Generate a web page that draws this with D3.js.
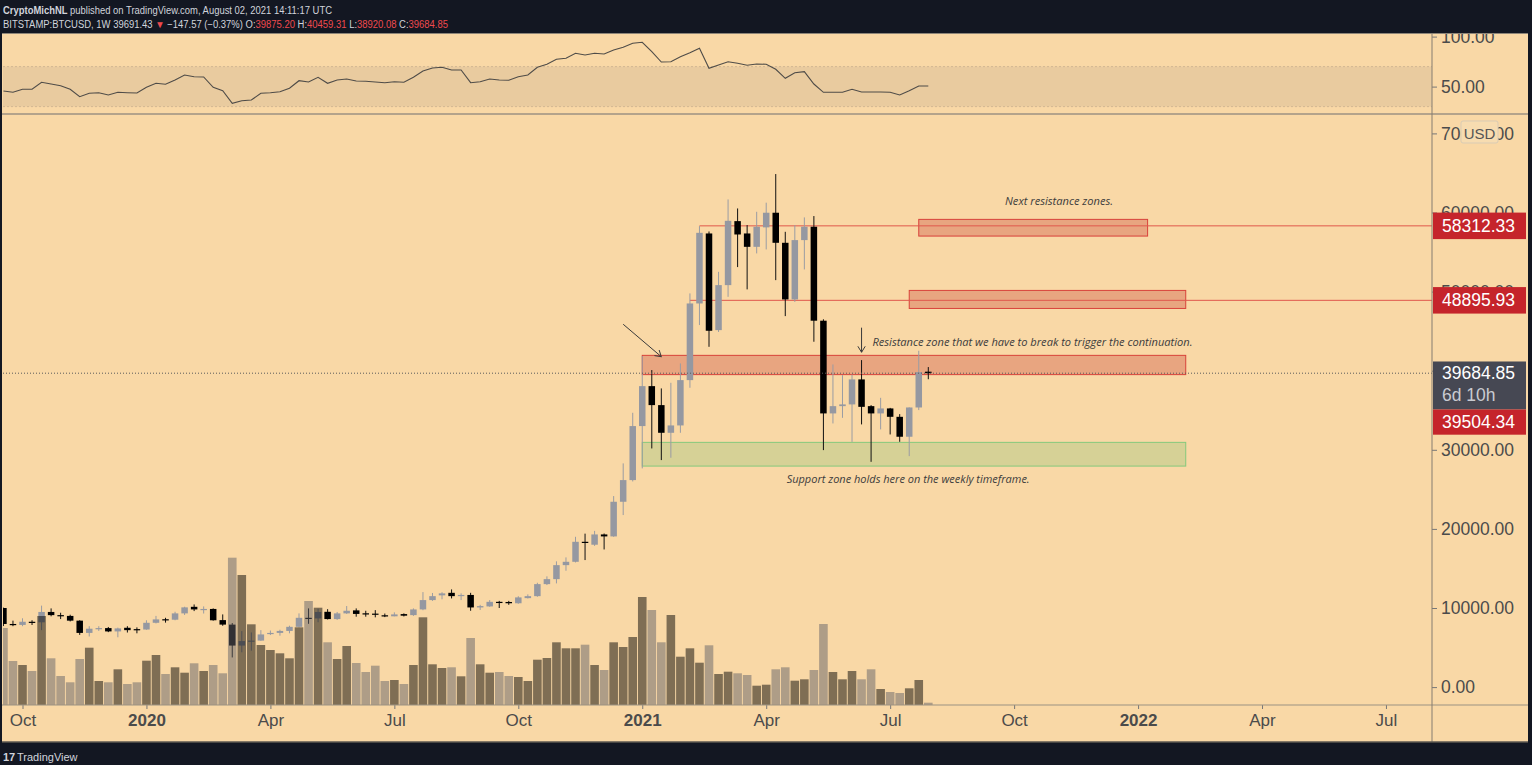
<!DOCTYPE html>
<html><head><meta charset="utf-8">
<script src="https://cdn.jsdelivr.net/npm/d3@7"></script>
<style>
html,body{margin:0;padding:0;background:#131722;}
svg{display:block;}
</style></head><body>
<svg id="c" width="1532" height="765"></svg>
<script>
// ---------------- DATA ----------------
const weeks = [
"2019-09-23","2019-09-30","2019-10-07","2019-10-14","2019-10-21","2019-10-28","2019-11-04","2019-11-11","2019-11-18","2019-11-25",
"2019-12-02","2019-12-09","2019-12-16","2019-12-23","2019-12-30","2020-01-06","2020-01-13","2020-01-20","2020-01-27","2020-02-03",
"2020-02-10","2020-02-17","2020-02-24","2020-03-02","2020-03-09","2020-03-16","2020-03-23","2020-03-30","2020-04-06","2020-04-13",
"2020-04-20","2020-04-27","2020-05-04","2020-05-11","2020-05-18","2020-05-25","2020-06-01","2020-06-08","2020-06-15","2020-06-22",
"2020-06-29","2020-07-06","2020-07-13","2020-07-20","2020-07-27","2020-08-03","2020-08-10","2020-08-17","2020-08-24","2020-08-31",
"2020-09-07","2020-09-14","2020-09-21","2020-09-28","2020-10-05","2020-10-12","2020-10-19","2020-10-26","2020-11-02","2020-11-09",
"2020-11-16","2020-11-23","2020-11-30","2020-12-07","2020-12-14","2020-12-21","2020-12-28","2021-01-04","2021-01-11","2021-01-18",
"2021-01-25","2021-02-01","2021-02-08","2021-02-15","2021-02-22","2021-03-01","2021-03-08","2021-03-15","2021-03-22","2021-03-29",
"2021-04-05","2021-04-12","2021-04-19","2021-04-26","2021-05-03","2021-05-10","2021-05-17","2021-05-24","2021-05-31","2021-06-07",
"2021-06-14","2021-06-21","2021-06-28","2021-07-05","2021-07-12","2021-07-19","2021-07-26","2021-08-02"];

const open = [
10000,7980,7860,8260,8190,9500,9100,9000,8400,6850,
7380,7460,7040,7500,7330,7280,8130,8580,8520,9320,
10150,9820,9880,8470,7900,5250,5820,5880,6700,6850,
7100,7620,8760,8680,9520,8600,9320,9700,9330,9290,
9080,8950,9230,9100,9820,11000,11600,11920,11550,11650,
10070,10200,10780,10760,10600,11250,11500,13020,13650,15420,
15840,18370,18000,19300,19050,23430,26170,33000,38050,35650,
32150,33080,38810,48500,57350,45130,50820,58910,57350,55660,
58120,59970,56170,49010,56510,58200,46320,34600,35520,35740,
38900,35520,34600,35230,34170,31650,35350,39875.20];

const high = [
10050,8400,8700,8450,10300,9950,9400,9150,8450,7700,
7700,7600,7520,7700,7550,8450,9000,8760,9520,10160,
10450,10200,9950,9190,8100,7080,6910,7200,7150,7250,
7760,9320,9950,9900,9850,9500,10250,9950,9650,9730,
9300,9450,9320,9950,12010,11900,12000,12350,11850,11920,
10400,11000,10900,10900,11490,11720,13190,14000,15900,16400,
19000,19400,19750,19420,24150,28280,34680,41850,40080,37760,
38470,40920,49770,58280,57600,52500,61650,60510,58410,60090,
61240,64860,57560,58410,59380,59550,46500,40790,39440,39500,
41340,35650,36570,35300,34510,35360,42520,40459.31];

const low = [
7720,7700,7700,7850,7200,8950,8600,8300,6600,6400,
7100,6950,6300,6900,6800,7250,8050,8150,8450,9120,
9610,9300,8400,7750,3750,4400,4600,5850,6580,6500,
6800,7550,8000,8200,8550,8500,9250,8900,8900,8820,
8850,8950,8930,9000,9720,10900,11100,11210,11000,9650,
9750,10150,10000,10400,10530,11200,11420,12900,13110,14710,
15760,16060,17850,17400,19000,21750,26000,27650,30170,28700,
28990,32150,37840,45770,43020,44900,49340,53100,50280,54830,
55330,51450,46900,48700,52800,43660,29960,33330,34040,31000,
33210,28480,32580,31940,31010,29200,35020,38920.08];

const close = [
7980,7860,8260,8190,9500,9100,9020,8400,6850,7380,
7460,7040,7420,7200,7280,8130,8560,8520,9320,10080,
9820,9880,8450,7900,5250,5820,5880,6660,6850,7100,
7620,8760,8680,9500,8600,9320,9650,9250,9290,9180,
8950,9190,9030,9820,11000,11500,11850,11500,11650,10070,
10240,10780,10720,10600,11340,11500,13020,13650,15420,15840,
18370,18240,19300,19050,23430,26170,33000,38050,35650,32150,
33080,38810,48500,57430,45050,50820,58950,57220,55660,58200,
59970,56170,49010,56510,58200,46320,34600,35520,35740,38900,
35430,34600,35230,34170,31650,35350,39820,39684.85];

// weekly volume (thousand BTC)
const volume = [
77,44,40,34,89,46.7,29,22.7,46,57.3,
24,22.7,35.7,21,22.7,44.3,50,31,37.7,32.3,
41.7,34,40,31.7,147.3,130,80.7,60,55,51.7,
46.7,77.7,104,97.3,62.7,46,59,42,33,39.3,
24,25,21,40,87.7,40.7,37,37.7,28.7,67,
40.7,32.3,33,29,28,24,45.3,47,62.7,56.7,
56.7,60.3,40,35,62.7,58,68,108,95,62.7,
90,48.3,56.7,42.3,59.7,31,33.3,31.7,30,19.3,
20.3,35.7,37.7,24.3,25.7,35,81,33,25.7,34,
25.7,35.7,16,13,12,16.7,25,2.3];

const rsi = [
45.6,44.3,47.3,47.3,54.3,52.6,50.9,47.3,39.9,43.3,
43.9,41.6,44.3,43.9,43.6,49.3,53.3,52.3,56.6,61.6,
59.9,59.6,49.3,45.9,33.3,35.9,36.6,43.3,43.9,44.9,
48.3,55.9,54.6,59.3,53.3,56.6,57.6,55.6,55.3,54.6,
53.9,54.9,54.3,59.3,65.6,68.6,69.3,66.6,66.6,53.9,
54.9,57.6,56.6,56.3,59.9,61.6,69.3,72.3,77.3,78.3,
83.3,81.6,83.3,82.6,86.6,89.3,93.3,94.3,84.9,74.6,
74.9,79.9,83.9,88.3,68.3,71.6,74.9,73.3,71.3,72.6,
72.3,67.3,58.3,63.9,64.9,52.6,44.3,44.3,44.3,47.3,
44.6,44.6,44.6,44.3,41.6,45.9,50.6,50.6];

const priceTicks = [0,10000,20000,30000,40000,50000,60000,70000];
const rsiTicks = [50,100];
const rsiBand = [30,70];
const timeTickDates = ["2019-10-07","2020-01-06","2020-04-06","2020-07-06","2020-10-05","2021-01-04","2021-04-05","2021-07-05","2021-10-04","2022-01-03","2022-04-04","2022-07-04"];
const timeTickLabels = ["Oct","2020","Apr","Jul","Oct","2021","Apr","Jul","Oct","2022","Apr","Jul"];

// drawings: [startDate, endDate, topPrice, bottomPrice]
const resistanceZones = [
  ["2021-07-26","2022-01-10",59130,57020],
  ["2021-07-19","2022-02-07",50150,47870],
  ["2021-01-04","2022-02-07",41940,39504.34]
];
const supportZone = ["2021-01-04","2022-02-07",30940,27940];
const rayLevels = [58312.33, 48895.93];
const rayStarts = ["2021-02-15","2021-02-08"];
const lastPrice = 39684.85;
const zoneLabel = 39504.34;
const arrows = [
  [["2020-12-21",45870],["2021-01-18",41770]],
  [["2021-06-14",45440],["2021-06-14",42330]]
];
const notes = [
  {text:"Next resistance zones.", date:"2021-11-06", price:61000, anchor:"middle", len:108},
  {text:"Resistance zone that we have to break to trigger the continuation.", date:"2021-06-22", price:43130, anchor:"start", len:320},
  {text:"Support zone holds here on the weekly timeframe.", date:"2021-04-20", price:25800, anchor:"start", len:243}
];

// ---------------- LAYOUT ----------------
const BG = "#f9d8a6";
const W=1532, H=765;
const L=3, R=1432, RT=34, RB=113.5, PT=115, PB=705, AB=742, RE=1528;
const svg = d3.select('#c');
const parse = d3.utcParse('%Y-%m-%d');
const dates = weeks.map(parse);

const x = d3.scaleUtc().domain([parse("2019-10-07"), parse("2021-08-02")]).range([22.5, 928.3]);
const y = d3.scaleLinear().domain([0,70000]).range([687.1,133.4]);
const yv = d3.scaleLinear().domain([0,150]).range([PB, PB-150]);
const yr = d3.scaleLinear().domain([50,100]).range([86.6,36.6]);

svg.append('rect').attr('width',W).attr('height',H).attr('fill','#131722');
svg.append('rect').attr('x',2).attr('y',33).attr('width',RE-2).attr('height',AB-33).attr('fill',BG);

const defs = svg.append('defs');
defs.append('clipPath').attr('id','cp').append('rect').attr('x',L).attr('y',PT).attr('width',R-L).attr('height',PB-PT);
defs.append('clipPath').attr('id','cr').append('rect').attr('x',L).attr('y',RT).attr('width',R-L).attr('height',RB-RT);
defs.append('clipPath').attr('id','cra').append('rect').attr('x',R).attr('y',RT).attr('width',RE-R).attr('height',RB-RT);

// ---------------- RSI PANE ----------------
const rg = svg.append('g').attr('clip-path','url(#cr)');
rg.append('rect').attr('x',L).attr('width',R-L).attr('y',yr(rsiBand[1])).attr('height',yr(rsiBand[0])-yr(rsiBand[1])).attr('fill','#e9cb9f');
rsiBand.forEach(v=>rg.append('line').attr('x1',L).attr('x2',R).attr('y1',yr(v)).attr('y2',yr(v))
  .attr('stroke','#d2b893').attr('stroke-dasharray','2,2').attr('stroke-width',1));
rg.append('path').datum(rsi).attr('fill','none').attr('stroke','#4f4c48').attr('stroke-width',1.1)
  .attr('d', d3.line().x((d,i)=>x(dates[i])).y(d=>yr(d)));

const rax = svg.append('g').attr('clip-path','url(#cra)');
rax.append('g').attr('transform',`translate(${R},0)`)
  .call(d3.axisRight(yr).tickValues(rsiTicks).tickFormat(d3.format('.2f')).tickSize(5).tickPadding(4))
  .call(g=>{g.select('.domain').remove();
    g.selectAll('line').attr('stroke','#777');
    g.selectAll('text').attr('fill','#4b4b4b').style('font','17.5px "Liberation Sans", Arial, sans-serif');});

// ---------------- PRICE PANE ----------------
const pg = svg.append('g').attr('clip-path','url(#cp)');

// zones
resistanceZones.forEach(z=>{
  pg.append('rect').attr('x',x(parse(z[0]))).attr('width',x(parse(z[1]))-x(parse(z[0])))
    .attr('y',y(z[2])).attr('height',y(z[3])-y(z[2]))
    .attr('fill','rgba(200,73,57,0.35)').attr('stroke','#d8423a').attr('stroke-width',1);
});
pg.append('rect').attr('x',x(parse(supportZone[0]))).attr('width',x(parse(supportZone[1]))-x(parse(supportZone[0])))
  .attr('y',y(supportZone[2])).attr('height',y(supportZone[3])-y(supportZone[2]))
  .attr('fill','rgba(149,199,120,0.35)').attr('stroke','#86c97c').attr('stroke-width',1);
rayLevels.forEach((v,i)=>{
  pg.append('line').attr('x1',x(parse(rayStarts[i]))).attr('x2',R).attr('y1',y(v)).attr('y2',y(v))
    .attr('stroke','#e0574c').attr('stroke-width',1);
});

// candles
const UP='#9598a1', DN='#000000';
const bw = 6.5;
const cg = pg.append('g');
dates.forEach((d,i)=>{
  const up = close[i] >= open[i];
  const col = up ? UP : DN;
  const cx = x(d);
  cg.append('line').attr('x1',cx).attr('x2',cx).attr('y1',y(high[i])).attr('y2',y(low[i]))
    .attr('stroke', up ? '#9a9ca3' : '#111').attr('stroke-width',1);
  const t = y(Math.max(open[i],close[i])), b = y(Math.min(open[i],close[i]));
  cg.append('rect').attr('x',cx-bw/2).attr('width',bw).attr('y',t).attr('height',Math.max(1.2,b-t)).attr('fill',col);
});

// volume (drawn on top, semi-transparent)
const vw = 8.6;
dates.forEach((d,i)=>{
  const up = close[i] >= open[i];
  pg.append('rect').attr('x',x(d)-vw/2).attr('width',vw).attr('y',yv(volume[i])).attr('height',yv(0)-yv(volume[i]))
    .attr('fill', up ? 'rgba(0,0,0,0.49)' : 'rgba(100,98,104,0.5)');
});

// last price dotted line
pg.append('line').attr('x1',L).attr('x2',R).attr('y1',y(lastPrice)).attr('y2',y(lastPrice))
  .attr('stroke','#5a5a5a').attr('stroke-width',1).attr('stroke-dasharray','1,2');

// arrows
arrows.forEach(a=>{
  const x1=x(parse(a[0][0])), y1=y(a[0][1]), x2=x(parse(a[1][0])), y2=y(a[1][1]);
  pg.append('line').attr('x1',x1).attr('y1',y1).attr('x2',x2).attr('y2',y2).attr('stroke','#3a3a3a').attr('stroke-width',1);
  const ang = Math.atan2(y2-y1,x2-x1), hl=7;
  [ang+Math.PI-0.55, ang+Math.PI+0.55].forEach(t=>{
    pg.append('line').attr('x1',x2).attr('y1',y2).attr('x2',x2+hl*Math.cos(t)).attr('y2',y2+hl*Math.sin(t))
      .attr('stroke','#3a3a3a').attr('stroke-width',1);
  });
});

// notes
notes.forEach(n=>{
  pg.append('text').attr('x',x(parse(n.date))).attr('y',y(n.price)).attr('text-anchor',n.anchor)
    .attr('textLength',n.len).attr('lengthAdjust','spacingAndGlyphs')
    .attr('fill','#3c3c3c').style('font','italic 10px "Open Sans", "DejaVu Sans", sans-serif').text(n.text);
});

// ---------------- AXES / FRAMES ----------------
// price axis
svg.append('g').attr('transform',`translate(${R},0)`)
  .call(d3.axisRight(y).tickValues(priceTicks).tickFormat(d3.format('.2f')).tickSize(5).tickPadding(4))
  .call(g=>{g.select('.domain').remove();
    g.selectAll('line').attr('stroke','#777');
    g.selectAll('text').attr('fill','#4b4b4b').style('font','17.5px "Liberation Sans", Arial, sans-serif');});

// USD box
svg.append('rect').attr('x',1461).attr('y',121).attr('width',37).attr('height',22).attr('rx',2)
  .attr('fill','#f7dcb0').attr('stroke','#d9cbb4');
svg.append('text').attr('x',1479.5).attr('y',y(70000)+5.5).attr('text-anchor','middle').attr('fill','#555')
  .style('font','15px "Liberation Sans", Arial, sans-serif').text('USD');

// level labels
function label(yc, txt, fill, h){
  svg.append('rect').attr('x',R+1).attr('y',yc-h/2).attr('width',93).attr('height',h).attr('fill',fill);
  svg.append('text').attr('x',R+10).attr('y',yc+6).attr('fill','#fff')
    .style('font','17.5px "Liberation Sans", Arial, sans-serif').text(txt);
}
rayLevels.forEach(v=>label(y(v), d3.format('.2f')(v), '#c5242b', 26.5));
const ly = y(lastPrice);
svg.append('rect').attr('x',R+1).attr('y',ly-11.7).attr('width',93).attr('height',48).attr('fill','#464853');
svg.append('text').attr('x',R+10).attr('y',ly+6).attr('fill','#fff').style('font','17.5px "Liberation Sans", Arial, sans-serif').text(d3.format('.2f')(lastPrice));
svg.append('text').attr('x',R+10).attr('y',ly+28).attr('fill','#c9cbd1').style('font','17.5px "Liberation Sans", Arial, sans-serif').text('6d 10h');
label(ly+36.3+12.6, d3.format('.2f')(zoneLabel), '#c5242b', 25.2);

// time axis
svg.append('g').attr('transform',`translate(0,${PB})`)
  .call(d3.axisBottom(x).tickValues(timeTickDates.map(parse)).tickFormat((d,i)=>timeTickLabels[i]).tickSize(4).tickPadding(5))
  .call(g=>{g.select('.domain').remove();
    g.selectAll('line').attr('stroke','#777');
    g.selectAll('text').attr('fill','#4b4b4b')
      .style('font', (d,i)=> /^\d/.test(timeTickLabels[i]) ? 'bold 17px "Liberation Sans", Arial, sans-serif' : '17px "Liberation Sans", Arial, sans-serif');});

// frame lines
svg.append('line').attr('x1',2).attr('x2',RE).attr('y1',114).attr('y2',114).attr('stroke','#9c9282').attr('stroke-width',1.5);
svg.append('line').attr('x1',2).attr('x2',RE).attr('y1',PB).attr('y2',PB).attr('stroke','#9c9282').attr('stroke-width',1.2);
svg.append('line').attr('x1',R).attr('x2',R).attr('y1',33).attr('y2',AB).attr('stroke','#857d70').attr('stroke-width',1);
svg.append('line').attr('x1',2).attr('x2',RE).attr('y1',33.5).attr('y2',33.5).attr('stroke','#8d8578').attr('stroke-width',1);
svg.append('line').attr('x1',2).attr('x2',RE).attr('y1',AB).attr('y2',AB).attr('stroke','#5c5850').attr('stroke-width',1.5);

// ---------------- HEADER / FOOTER ----------------
const hf = '10px "Liberation Sans", Arial, sans-serif';
const h1 = svg.append('text').attr('x',3).attr('y',14).attr('fill','#d1d4dc').style('font',hf)
  .attr('textLength',329).attr('lengthAdjust','spacingAndGlyphs');
h1.append('tspan').attr('font-weight','bold').text('CryptoMichNL');
h1.append('tspan').text(' published on TradingView.com, August 02, 2021 14:11:17 UTC');
const seg = [
  ['BITSTAMP:BTCUSD, 1W ','#d1d4dc'],['39691.43 ','#d1d4dc'],['▼ ','#ef4a4e'],['−147.57 (−0.37%) ','#d1d4dc'],
  ['O:','#d1d4dc'],['39875.20 ','#ef4a4e'],['H:','#d1d4dc'],['40459.31 ','#ef4a4e'],
  ['L:','#d1d4dc'],['38920.08 ','#ef4a4e'],['C:','#d1d4dc'],['39684.85','#ef4a4e']];
const h2 = svg.append('text').attr('x',3).attr('y',27.5).style('font',hf)
  .attr('textLength',445).attr('lengthAdjust','spacingAndGlyphs');
seg.forEach(s=>h2.append('tspan').attr('fill',s[1]).text(s[0]));
svg.append('text').attr('x',3).attr('y',761).attr('fill','#d1d4dc').style('font','bold 11px "Liberation Sans", Arial, sans-serif').text('17');
svg.append('text').attr('x',17).attr('y',761).attr('fill','#d1d4dc').style('font','11px "Liberation Sans", Arial, sans-serif').text('TradingView');
</script>
</body></html>
